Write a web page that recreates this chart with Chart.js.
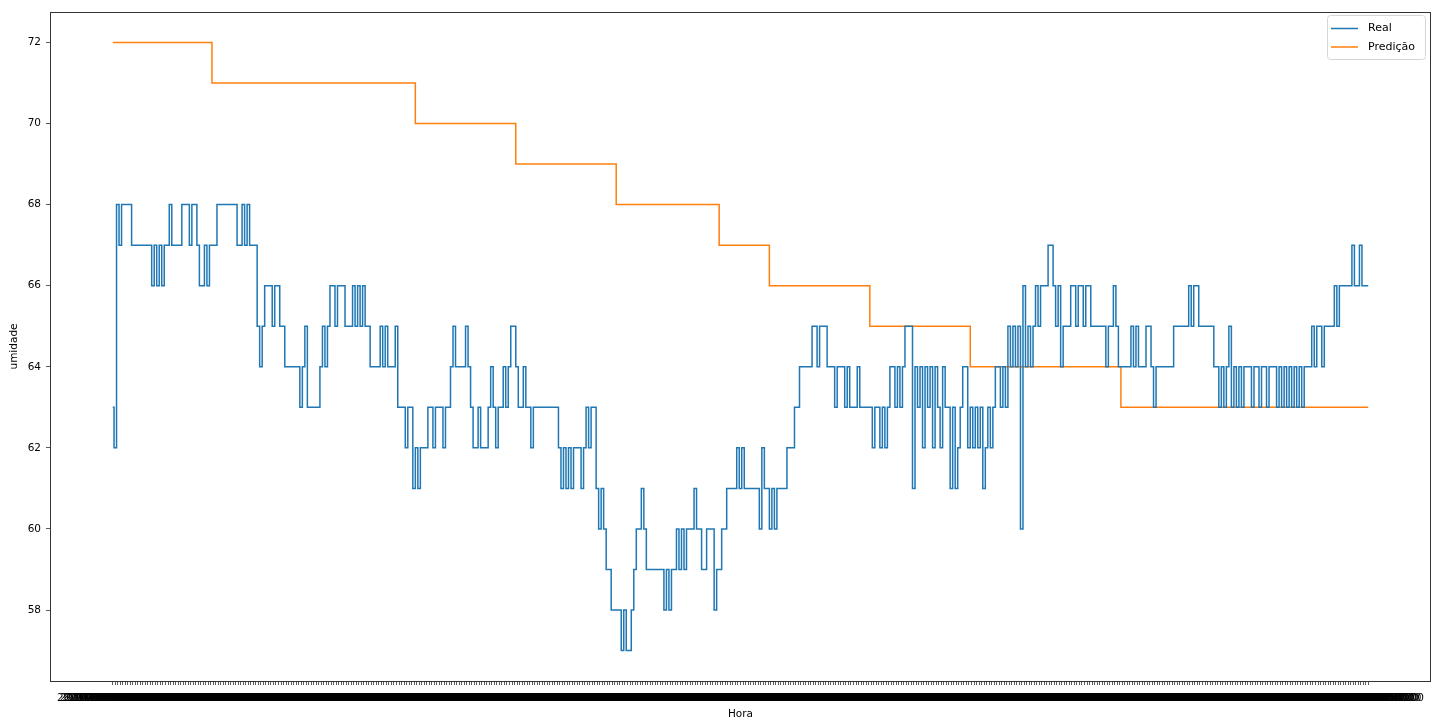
<!DOCTYPE html>
<html>
<head>
<meta charset="utf-8">
<script src="https://cdn.jsdelivr.net/npm/chart.js@4.4.0/dist/chart.umd.min.js"></script>
<style>
  html, body { margin: 0; padding: 0; background: #ffffff; }
  #wrap { width: 1442px; height: 724px; position: relative; }
</style>
</head>
<body>
<div id="wrap"><canvas id="chart" width="1442" height="724"></canvas></div>
<script>
// Humidity readings, one every 3 minutes (20 per hour)
const real = [
  63,62,68,67,68,68,68,68,67,67,67,67,67,67,67,67,66,67,66,67,
  66,67,67,68,67,67,67,67,68,68,68,67,68,68,67,66,66,67,66,67,
  67,67,68,68,68,68,68,68,68,68,67,67,68,67,68,67,67,67,65,64,
  65,66,66,66,65,66,66,65,65,64,64,64,64,64,64,63,64,65,63,63,
  63,63,63,64,65,64,65,66,66,65,66,66,66,65,65,65,66,65,66,65,
  66,65,65,64,64,64,64,65,64,65,64,64,64,65,63,63,63,62,63,63,
  61,62,61,62,62,62,63,63,62,63,63,63,62,63,63,64,65,64,64,64,
  64,65,64,63,62,62,63,62,62,62,63,64,63,62,63,63,64,63,64,65,
  65,64,63,63,64,63,63,62,63,63,63,63,63,63,63,63,63,63,62,61,
  62,61,62,61,62,62,62,61,62,63,62,63,63,61,60,61,60,59,59,58,
  58,58,58,57,58,57,57,58,59,60,60,61,60,59,59,59,59,59,59,59,
  58,59,58,59,59,60,59,60,59,60,60,60,61,60,60,59,59,60,60,60,
  58,59,59,60,60,61,61,61,61,62,61,62,61,61,61,61,61,61,60,62,
  61,61,60,61,60,61,61,61,61,62,62,62,63,63,64,64,64,64,64,65,
  65,64,65,65,65,64,64,64,63,64,64,64,63,64,63,63,63,64,63,63,
  63,63,63,62,63,63,62,63,62,63,64,64,63,64,63,64,65,65,65,61,
  64,63,64,62,64,63,64,62,64,63,62,64,63,63,61,63,61,62,63,64,
  64,62,63,62,63,62,63,61,62,63,62,63,64,64,63,64,63,65,64,65,
  64,65,60,66,64,65,64,65,66,65,66,66,66,67,67,66,65,66,64,65,
  65,65,66,66,65,66,66,65,66,66,65,65,65,65,65,65,64,65,65,66,
  65,64,64,64,64,64,65,64,65,64,64,64,65,65,64,63,64,64,64,64,
  64,64,64,65,65,65,65,65,65,66,65,66,66,65,65,65,65,65,65,64,
  64,63,64,63,64,65,63,64,63,64,63,64,64,64,63,64,64,63,64,64,
  63,64,64,64,63,64,63,64,63,64,63,64,63,64,63,64,64,64,65,64,
  65,65,64,65,65,65,65,66,65,66,66,66,66,66,67,66,66,67,66,66,
  66
];

// Hourly model output, repeated for each reading of that hour
const predicao = [
  72,72,72,72,72,72,72,72,72,72,72,72,72,72,72,72,72,72,72,72,
  72,72,72,72,72,72,72,72,72,72,72,72,72,72,72,72,72,72,72,72,
  71,71,71,71,71,71,71,71,71,71,71,71,71,71,71,71,71,71,71,71,
  71,71,71,71,71,71,71,71,71,71,71,71,71,71,71,71,71,71,71,71,
  71,71,71,71,71,71,71,71,71,71,71,71,71,71,71,71,71,71,71,71,
  71,71,71,71,71,71,71,71,71,71,71,71,71,71,71,71,71,71,71,71,
  71,70,70,70,70,70,70,70,70,70,70,70,70,70,70,70,70,70,70,70,
  70,70,70,70,70,70,70,70,70,70,70,70,70,70,70,70,70,70,70,70,
  70,69,69,69,69,69,69,69,69,69,69,69,69,69,69,69,69,69,69,69,
  69,69,69,69,69,69,69,69,69,69,69,69,69,69,69,69,69,69,69,69,
  69,68,68,68,68,68,68,68,68,68,68,68,68,68,68,68,68,68,68,68,
  68,68,68,68,68,68,68,68,68,68,68,68,68,68,68,68,68,68,68,68,
  68,68,67,67,67,67,67,67,67,67,67,67,67,67,67,67,67,67,67,67,
  67,67,66,66,66,66,66,66,66,66,66,66,66,66,66,66,66,66,66,66,
  66,66,66,66,66,66,66,66,66,66,66,66,66,66,66,66,66,66,66,66,
  66,66,65,65,65,65,65,65,65,65,65,65,65,65,65,65,65,65,65,65,
  65,65,65,65,65,65,65,65,65,65,65,65,65,65,65,65,65,65,65,65,
  65,65,64,64,64,64,64,64,64,64,64,64,64,64,64,64,64,64,64,64,
  64,64,64,64,64,64,64,64,64,64,64,64,64,64,64,64,64,64,64,64,
  64,64,64,64,64,64,64,64,64,64,64,64,64,64,64,64,64,64,64,64,
  64,64,63,63,63,63,63,63,63,63,63,63,63,63,63,63,63,63,63,63,
  63,63,63,63,63,63,63,63,63,63,63,63,63,63,63,63,63,63,63,63,
  63,63,63,63,63,63,63,63,63,63,63,63,63,63,63,63,63,63,63,63,
  63,63,63,63,63,63,63,63,63,63,63,63,63,63,63,63,63,63,63,63,
  63,63,63,63,63,63,63,63,63,63,63,63,63,63,63,63,63,63,63,63,
  63
];

const yTicks = [58, 60, 62, 64, 66, 68, 70, 72];
const firstDay = 5;            // 2021-10-05
const minutesPerReading = 3;

const pad2 = n => String(n).padStart(2, '0');
const horaLabels = real.map((_, i) => {
  const m = i * minutesPerReading;
  const day = firstDay + Math.floor(m / 1440);
  const h = Math.floor((m % 1440) / 60);
  return '2021-10-' + pad2(day) + ' ' + pad2(h) + ':' + pad2(m % 60) + ':00';
});

const BLUE = '#1f77b4';
const ORANGE = '#ff7f0e';
const FONT = 'DejaVu Sans';

const xMargin = (real.length - 1) * 0.05;
const yMin = 57, yMax = 72, yMargin = (yMax - yMin) * 0.05;

// frame around the plot area and the legend box in the upper right corner
const framePlugin = {
  id: 'frame',
  afterDraw(chart) {
    const {ctx, chartArea: a} = chart;
    ctx.save();
    ctx.strokeStyle = '#333333';
    ctx.lineWidth = 1;
    ctx.strokeRect(Math.round(a.left) + 0.5, Math.round(a.top) + 0.5,
                   Math.round(a.right - a.left) - 1, Math.round(a.bottom - a.top));

    // legend
    const bx = 1327.5, by = 15.5, bw = 98, bh = 44, r = 3;
    ctx.beginPath();
    ctx.moveTo(bx + r, by);
    ctx.arcTo(bx + bw, by, bx + bw, by + bh, r);
    ctx.arcTo(bx + bw, by + bh, bx, by + bh, r);
    ctx.arcTo(bx, by + bh, bx, by, r);
    ctx.arcTo(bx, by, bx + bw, by, r);
    ctx.closePath();
    ctx.fillStyle = 'rgba(255,255,255,0.8)';
    ctx.fill();
    ctx.strokeStyle = '#d6d6d6';
    ctx.lineWidth = 1;
    ctx.stroke();

    const rows = [28.5, 47];
    chart.data.datasets.forEach((ds, k) => {
      const y = rows[k];
      ctx.beginPath();
      ctx.moveTo(1331, y);
      ctx.lineTo(1358, y);
      ctx.strokeStyle = ds.borderColor;
      ctx.lineWidth = 1.5;
      ctx.stroke();
      ctx.fillStyle = '#000000';
      ctx.font = '11px "' + FONT + '"';
      ctx.textBaseline = 'middle';
      ctx.textAlign = 'left';
      ctx.fillText(ds.label, 1368, y);
    });
    ctx.restore();
  }
};

const toPoints = arr => arr.map((v, i) => ({x: i, y: v}));

new Chart(document.getElementById('chart'), {
  type: 'line',
  data: {
    datasets: [
      { label: 'Real', data: toPoints(real), borderColor: BLUE, backgroundColor: BLUE,
        borderWidth: 1.5, pointRadius: 0, stepped: 'middle' },
      { label: 'Predição', data: toPoints(predicao), borderColor: ORANGE, backgroundColor: ORANGE,
        borderWidth: 1.5, pointRadius: 0, stepped: 'middle' }
    ]
  },
  options: {
    responsive: false,
    animation: false,
    devicePixelRatio: 1,
    layout: { padding: { top: 12, right: 11, left: 0, bottom: 0 } },
    plugins: { legend: { display: false }, tooltip: { enabled: false } },
    scales: {
      x: {
        type: 'linear',
        min: -xMargin,
        max: real.length - 1 + xMargin,
        afterBuildTicks: s => { s.ticks = horaLabels.map((_, i) => ({value: i})); },
        afterFit: s => { s.height = 43; },
        border: { display: false },
        grid: { display: true, drawOnChartArea: false, drawTicks: true, tickLength: 4,
                color: '#333333', lineWidth: 0.8 },
        ticks: {
          autoSkip: false, maxRotation: 0, minRotation: 0, padding: 7,
          color: '#000000', font: { family: FONT, size: 10.5 },
          callback: v => horaLabels[v]
        },
        title: { display: true, text: 'Hora', color: '#000000',
                 font: { family: FONT, size: 10.5 }, padding: { top: 0, bottom: 3.2 } }
      },
      y: {
        min: yMin - yMargin,
        max: yMax + yMargin,
        afterBuildTicks: s => { s.ticks = yTicks.map(v => ({value: v})); },
        afterFit: s => { s.width = 50; },
        border: { display: false },
        grid: { display: true, drawOnChartArea: false, drawTicks: true, tickLength: 4,
                color: '#333333', lineWidth: 0.8 },
        ticks: { padding: 5, color: '#000000', font: { family: FONT, size: 10.5 } },
        title: { display: true, text: 'umidade', color: '#000000',
                 font: { family: FONT, size: 10.5 }, padding: { top: 7.5, bottom: 0 } }
      }
    }
  },
  plugins: [framePlugin]
});
</script>
</body>
</html>
